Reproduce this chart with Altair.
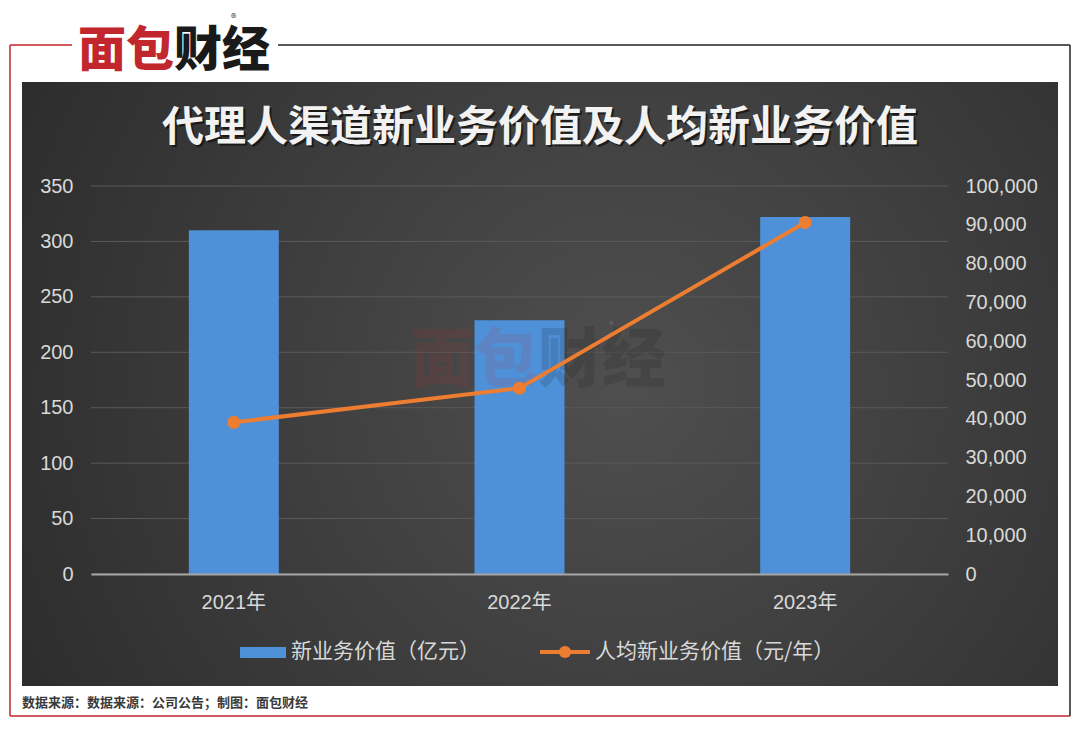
import altair as alt
import pandas as pd

# ---------------- data ----------------
years = ["2021年", "2022年", "2023年"]
nbv = [310, 229, 322]                 # 新业务价值（亿元）
per_capita = [39100, 47900, 90600]    # 人均新业务价值（元/年）
left_ticks = [0, 50, 100, 150, 200, 250, 300, 350]
right_ticks = [0, 10000, 20000, 30000, 40000, 50000, 60000, 70000, 80000, 90000, 100000]

title_text = "代理人渠道新业务价值及人均新业务价值"
legend_bar = "新业务价值（亿元）"
legend_line = "人均新业务价值（元/年）"
footer_text = "数据来源：数据来源：公司公告；制图：面包财经"

df = pd.DataFrame({"year": years, "nbv": nbv, "pc": per_capita})
grid_df = pd.DataFrame({"v": left_ticks})
one = pd.DataFrame({"k": [0]})

# ---------------- styles ----------------
W, H = 857, 388
NUM_FONT = "Liberation Sans, Noto Sans CJK SC"
CJK_FONT = "Noto Sans CJK SC"
BLUE = "#4e91d8"
ORANGE = "#ed7d31"
LABEL = "#d9d9d9"
RED = "#c1272d"

x_enc = alt.X(
    "year:N", sort=years,
    scale=alt.Scale(paddingInner=0.685, paddingOuter=0.3425),
    axis=alt.Axis(title=None, labelAngle=0, labelFont=NUM_FONT, labelFontSize=20,
                  labelColor=LABEL, ticks=False, tickSize=0, labelPadding=18,
                  domain=True, domainColor="#a6a6a6", domainWidth=2, grid=False, zindex=1),
)

bg = alt.Chart(one).mark_rect(
    fill={"gradient": "radial", "x1": 0.58, "y1": 0.5, "r1": 0, "x2": 0.58, "y2": 0.5, "r2": 0.78,
          "stops": [{"offset": 0, "color": "#4f4f4f"}, {"offset": 1, "color": "#262626"}]}
).encode(x=alt.value(-69), x2=alt.value(967), y=alt.value(-104), y2=alt.value(500))

def rule(x1, x2, y1, y2, color, w=1.5):
    return alt.Chart(one).mark_rule(color=color, strokeWidth=w).encode(
        x=alt.value(x1), x2=alt.value(x2), y=alt.value(y1), y2=alt.value(y2))

frame = [
    rule(-81, -81, -141, 530, RED),
    rule(-81, 979, 530, 530, RED),
    rule(979, 979, -141, 530, "#222222"),
    rule(-81, -19, -141, -141, RED),
    rule(187, 979, -141, -141, "#222222"),
]

grid = alt.Chart(grid_df).mark_rule(color="#5a5a5a", strokeWidth=1).encode(
    y=alt.Y("v:Q", scale=alt.Scale(domain=[0, 350], nice=False), axis=None),
    x=alt.value(0), x2=alt.value(W),
)

bars = alt.Chart(df).mark_bar(color=BLUE).encode(
    x=x_enc,
    y=alt.Y("nbv:Q", scale=alt.Scale(domain=[0, 350], nice=False),
            axis=alt.Axis(orient="left", title=None, values=left_ticks, labelFont=NUM_FONT,
                          labelFontSize=20, labelColor=LABEL, ticks=False, tickSize=0,
                          labelPadding=18, domain=False, grid=False, zindex=1)),
)

line = alt.Chart(df).mark_line(
    color=ORANGE, strokeWidth=4,
    point=alt.OverlayMarkDef(filled=True, size=170, color=ORANGE),
).encode(
    x=x_enc,
    y=alt.Y("pc:Q", scale=alt.Scale(domain=[0, 100000], nice=False),
            axis=alt.Axis(orient="right", title=None, values=right_ticks, format=",.0f",
                          labelFont=NUM_FONT, labelFontSize=20, labelColor=LABEL,
                          ticks=False, tickSize=0, labelPadding=17, domain=False,
                          grid=False, zindex=1)),
)

def text(t, x, y, size, color, align="left", weight="normal", font=CJK_FONT, opacity=1.0):
    return alt.Chart(one).mark_text(
        text=t, align=align, baseline="middle", fontSize=size, color=color,
        fontWeight=weight, font=font, opacity=opacity,
    ).encode(x=alt.value(x), y=alt.value(y))

watermark = [
    text("面包", 319, 176, 64, RED, weight=900, opacity=0.12),
    text("财经", 447, 176, 64, "#151515", weight=900, opacity=0.15),
    text("®", 518, 140, 10, "#bbbbbb", opacity=0.25),
]

titles = [
    text(title_text, 451, -56, 42, "#000000", align="center", weight="bold", opacity=0.55),
    text(title_text, 449, -58, 42, "#f2f2f2", align="center", weight="bold"),
]

legend = [
    alt.Chart(one).mark_rect(color=BLUE).encode(
        x=alt.value(149), x2=alt.value(195), y=alt.value(461), y2=alt.value(472)),
    text(legend_bar, 200, 466, 21, LABEL),
    alt.Chart(one).mark_rule(color=ORANGE, strokeWidth=4).encode(
        x=alt.value(449), x2=alt.value(499), y=alt.value(466), y2=alt.value(466)),
    alt.Chart(one).mark_point(color=ORANGE, filled=True, size=150, opacity=1).encode(
        x=alt.value(474), y=alt.value(466)),
    text(legend_line, 504, 466, 21, LABEL),
]

footer = [text(footer_text, -69, 517, 13, "#3a3a3a", weight="bold")]

logo = [
    text("面包", -13, -134, 48, RED, weight=900),
    text("财经", 83, -134, 48, "#1a1a1a", weight=900),
    text("®", 140, -167, 11, "#333333"),
]

chart = alt.layer(
    bg, *frame, grid, bars, *watermark, line, *titles, *legend, *footer, *logo
).resolve_scale(y="independent").properties(
    width=W, height=H,
    autosize=alt.AutoSizeParams(type="none"),
    padding={"left": 83, "top": 178, "right": 124, "bottom": 144},
    background="#ffffff",
).configure_view(stroke=None)

chart.save("out.html", embed_options={"renderer": "svg", "actions": False})
